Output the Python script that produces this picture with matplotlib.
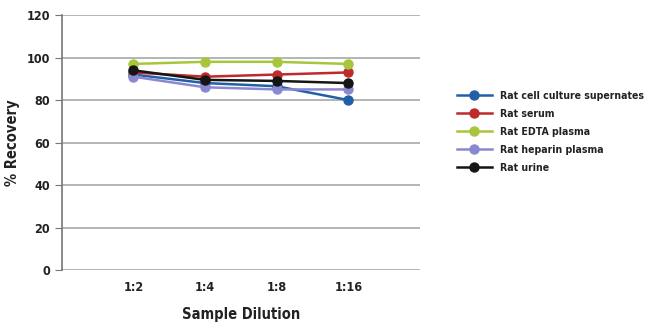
import matplotlib
matplotlib.use("Agg")
import matplotlib.pyplot as plt

plt.rcParams['font.family'] = ['DejaVu Sans']
plt.rcParams['font.stretch'] = 'condensed'

dilutions = ['1:2', '1:4', '1:8', '1:16']
cell_culture = [92, 88, 86.5, 80]
serum = [93, 91, 92, 93]
edta_plasma = [97, 98, 98, 97]
heparin_plasma = [91, 86, 85, 85]
urine = [94, 89.5, 89, 88]

series = [
    ('Rat cell culture supernates', cell_culture, '#2160a6'),
    ('Rat serum', serum, '#be2b2b'),
    ('Rat EDTA plasma', edta_plasma, '#a8c63c'),
    ('Rat heparin plasma', heparin_plasma, '#8b88d2'),
    ('Rat urine', urine, '#151515'),
]

fig = plt.figure(figsize=(6.5, 3.35), dpi=100)
ax = fig.add_axes([0.095, 0.194, 0.551, 0.761])

x = range(1, len(dilutions) + 1)
for name, vals, col in series:
    ax.plot(x, vals, color=col, lw=1.8, marker='o', ms=6.5, label=name)

ax.set_xlim(0, 5)
ax.set_ylim(0, 120)
ax.set_yticks(range(0, 121, 20))
ax.set_xticks(list(x))
ax.set_xticklabels(dilutions)
ax.yaxis.grid(True, color='#a8a8a8', lw=1.2)
ax.set_axisbelow(True)
for s in ['top', 'right', 'bottom']:
    ax.spines[s].set_visible(False)
ax.spines['left'].set_color('#777777')
ax.spines['left'].set_linewidth(1.2)
ax.tick_params(axis='y', length=5, color='#777777', labelsize=9)
ax.tick_params(axis='x', length=0, labelsize=9, pad=8)
for lbl in ax.get_xticklabels() + ax.get_yticklabels():
    lbl.set_fontweight('bold')
    lbl.set_color('#222222')

ax.set_xlabel('Sample Dilution', fontsize=10.5, fontweight='bold', color='#222222', labelpad=9)
ax.set_ylabel('% Recovery', fontsize=10.5, fontweight='bold', color='#222222', labelpad=5)

leg = fig.legend(loc='center left', bbox_to_anchor=(0.688, 0.606), frameon=False,
                 prop={'size': 7.6, 'weight': 'bold', 'stretch': 'condensed'}, handlelength=3.3,
                 labelspacing=0.75, handletextpad=0.8)
for t in leg.get_texts():
    t.set_color('#222222')

fig.savefig('out.png', dpi=100)
